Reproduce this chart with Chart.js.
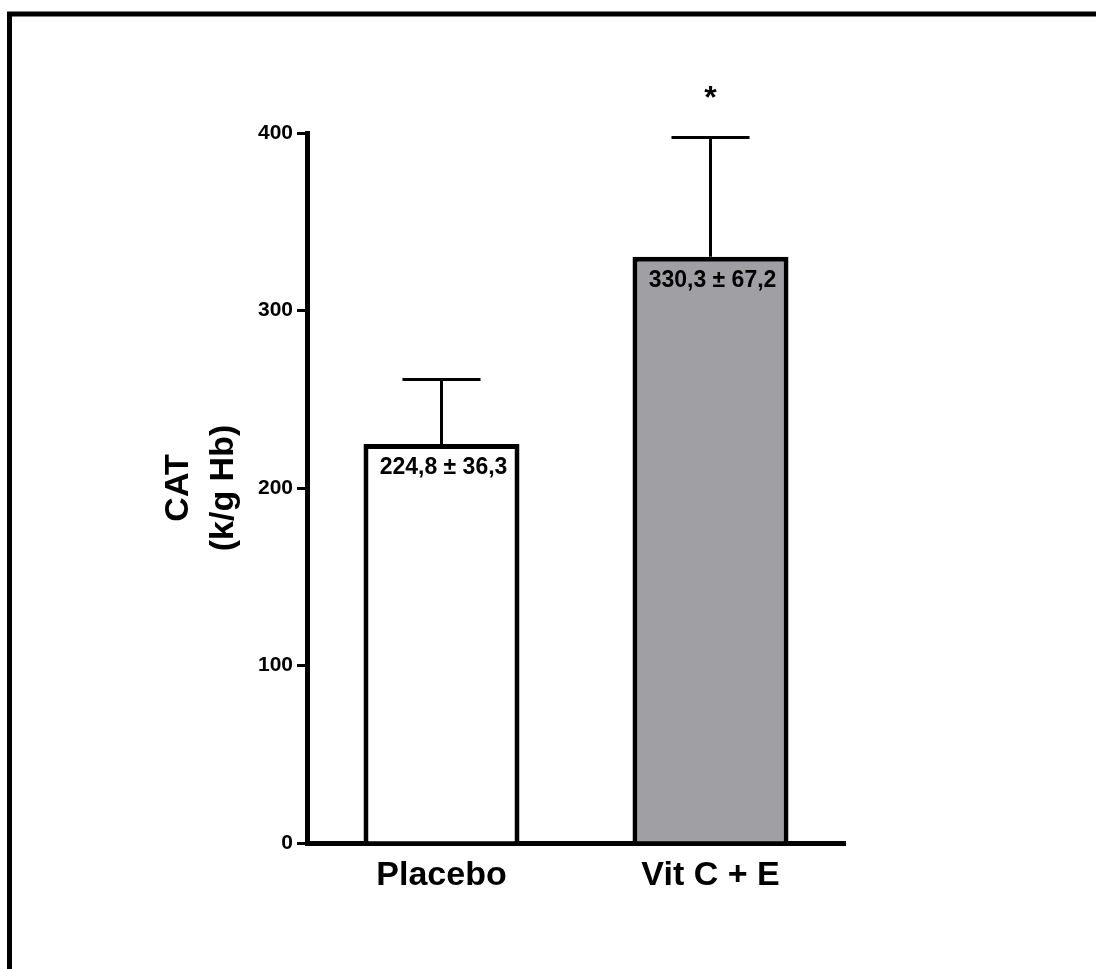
<!DOCTYPE html>
<html>
<head>
<meta charset="utf-8">
<script src="https://cdn.jsdelivr.net/npm/chart.js@4/dist/chart.umd.min.js"></script>
<style>
  body { margin: 0; background: #fff; }
  canvas { display: block; }
</style>
</head>
<body>
<canvas id="catChart" width="1096" height="969"></canvas>
<script>
// data
const categories = ['Placebo', 'Vit C + E'];
const means = [224.8, 330.3];
const sds = [36.3, 67.2];
const marks = ['', '*'];
const yMin = 0;
const yMax = 400;
const yStep = 100;
const barColors = ['#ffffff', '#a09fa4'];

const FONT = '"Liberation Sans", Arial, sans-serif';

const fmt = (v) => v.toFixed(1).replace('.', ',');

// outer frame of the figure
const framePlugin = {
    id: 'frame',
    beforeDraw: (chart) => {
        const c = chart.ctx;
        c.save();
        c.strokeStyle = '#000';
        c.lineWidth = 5;
        c.strokeRect(9.5, 14, chart.width + 50, chart.height + 50);
        c.restore();
    }
};

// error bars, value labels and significance marks
const errorPlugin = {
    id: 'errorBars',
    afterDatasetsDraw: (chart) => {
        const c = chart.ctx;
        const y = chart.scales.y;
        const meta = chart.getDatasetMeta(0);
        c.save();
        meta.data.forEach((bar, i) => {
            const top = y.getPixelForValue(means[i] + sds[i]);
            const capHalf = bar.width / 4;
            c.strokeStyle = '#000';
            c.lineWidth = 3;
            c.beginPath();
            c.moveTo(bar.x, bar.y);
            c.lineTo(bar.x, top);
            c.moveTo(bar.x - capHalf, top);
            c.lineTo(bar.x + capHalf, top);
            c.stroke();

            c.fillStyle = '#000';
            c.textAlign = 'center';
            c.textBaseline = 'middle';
            c.font = 'bold 23px ' + FONT;
            c.fillText(fmt(means[i]) + ' \u00b1 ' + fmt(sds[i]), bar.x + 2, bar.y + 24);

            if (marks[i]) {
                c.font = 'bold 32px ' + FONT;
                c.fillText(marks[i], bar.x, top - 38);
            }
        });
        c.restore();
    }
};

new Chart(document.getElementById('catChart'), {
    type: 'bar',
    data: {
        labels: categories,
        datasets: [{
            data: means,
            backgroundColor: barColors,
            borderColor: '#000',
            borderWidth: 5,
            borderSkipped: 'start',
            barPercentage: 0.58,
            categoryPercentage: 1
        }]
    },
    options: {
        responsive: false,
        animation: false,
        events: [],
        layout: {
            padding: { left: 0, top: 133, right: 251, bottom: 56 }
        },
        plugins: {
            legend: { display: false },
            tooltip: { enabled: false }
        },
        scales: {
            x: {
                afterFit: (scale) => { scale.height = 70; },
                grid: { display: false },
                border: { display: true, color: '#000', width: 5 },
                ticks: {
                    color: '#000',
                    padding: 4,
                    font: { family: FONT, size: 34, weight: 'bold' }
                }
            },
            y: {
                min: yMin,
                max: yMax,
                afterFit: (scale) => { scale.width = 307; },
                grid: {
                    drawOnChartArea: false,
                    drawTicks: true,
                    tickLength: 10,
                    lineWidth: 3,
                    color: '#000'
                },
                border: { display: true, color: '#000', width: 5 },
                ticks: {
                    stepSize: yStep,
                    color: '#000',
                    padding: 4,
                    font: { family: FONT, size: 21, weight: 'bold' }
                },
                title: {
                    display: true,
                    text: ['CAT', '(k/g Hb)'],
                    color: '#000',
                    padding: { top: 156, bottom: 0 },
                    font: { family: FONT, size: 34, weight: 'bold', lineHeight: 1.32 }
                }
            }
        }
    },
    plugins: [framePlugin, errorPlugin]
});
</script>
</body>
</html>
